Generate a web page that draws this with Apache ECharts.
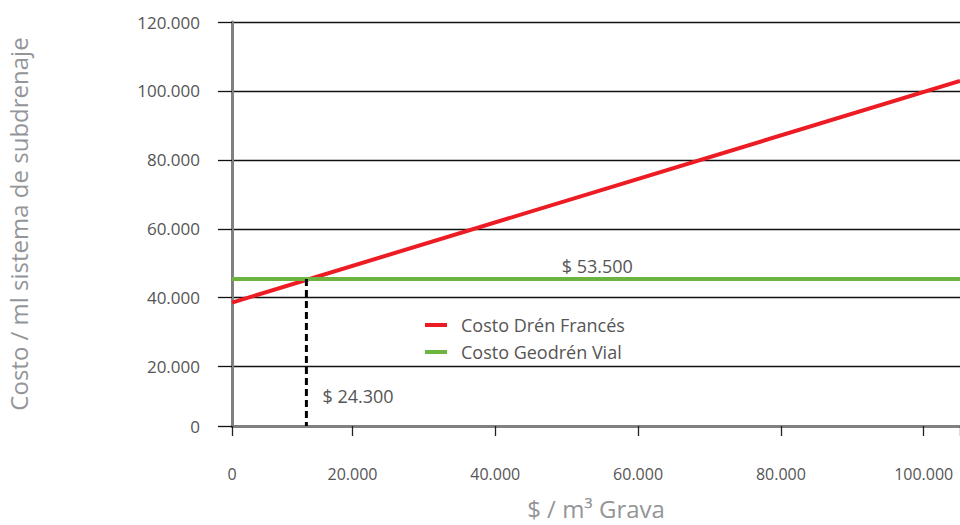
<!DOCTYPE html>
<html>
<head>
<meta charset="utf-8">
<script src="https://cdn.jsdelivr.net/npm/echarts@6/dist/echarts.min.js"></script>
<style>
html,body{margin:0;padding:0;background:#fff;}
#chart{width:960px;height:525px;}
</style>
</head>
<body>
<div id="chart"></div>
<script>
// ---- data ----
// axis ranges (origin of the drawing starts slightly above the true zero)
const xMin = 3130, xMax = 105086;
const yMin = 2780, yMax = 120000;
const xTickLabels = ['0', '20.000', '40.000', '60.000', '80.000', '100.000', ''];
const yTickLabels = ['0', '20.000', '40.000', '60.000', '80.000', '100.000', '120.000'];
const xName = '$ / m³ Grava';
const yName = 'Costo / ml sistema de subdrenaje';

const seriesNames = ['Costo Drén Francés', 'Costo Geodrén Vial'];
const drenX = [3130, 105086];
const drenY = [38600, 102900];
const geoX = [3130, 105086];
const geoY = [45400, 45400];
const crossX = [13550, 13550];
const crossY = [45400, 2780];
const annotText = ['$ 53.500', '$ 24.300'];
const annotX = [49300, 15800];
const annotY = [49070, 11390];

const FONT = 'Open Sans';
const chart = echarts.init(document.getElementById('chart'), null, {renderer: 'svg'});

const zip = (a, b) => a.map((v, i) => [v, b[i]]);

chart.setOption({
  animation: false,
  backgroundColor: '#ffffff',
  textStyle: {fontFamily: FONT},
  grid: {left: 232, right: 0, top: 22, bottom: 99, containLabel: false, outerBoundsMode: 'none'},
  legend: {
    data: seriesNames,
    orient: 'vertical',
    left: 425,
    top: 315,
    padding: 0,
    itemWidth: 22,
    itemHeight: 4,
    itemGap: 7,
    icon: 'rect',
    textStyle: {fontFamily: FONT, fontSize: 18, color: '#555555', padding: [0, 0, 0, 9], lineHeight: 20}
  },
  xAxis: {
    type: 'value',
    min: xMin, max: xMax,
    name: xName,
    nameLocation: 'middle',
    nameGap: 70,
    nameTextStyle: {fontFamily: FONT, fontSize: 24, color: '#939598'},
    axisLine: {onZero: false, lineStyle: {color: '#808080', width: 3}},
    axisTick: {show: true, length: 10, lineStyle: {color: '#222', width: 1.3}},
    axisLabel: {
      margin: 40,
      fontFamily: FONT, fontSize: 16, color: '#555555',
      formatter: (v, i) => xTickLabels[i] !== undefined ? xTickLabels[i] : ''
    },
    splitLine: {show: false}
  },
  yAxis: {
    type: 'value',
    min: yMin, max: yMax,
    name: yName,
    nameLocation: 'middle',
    nameGap: 202,
    nameRotate: 90,
    nameTextStyle: {fontFamily: FONT, fontSize: 24, color: '#939598'},
    axisLine: {show: true, onZero: false, lineStyle: {color: '#808080', width: 3}},
    axisTick: {show: true, length: 14, lineStyle: {color: '#111', width: 1.3}},
    axisLabel: {
      margin: 32,
      fontFamily: FONT, fontSize: 17, color: '#555555',
      formatter: (v, i) => yTickLabels[i] !== undefined ? yTickLabels[i] : ''
    },
    splitLine: {show: true, lineStyle: {color: '#111', width: 1.3}}
  },
  series: [
    {
      name: seriesNames[0], type: 'line', data: zip(drenX, drenY),
      symbol: 'none', color: '#ED1C24',
      lineStyle: {color: '#ED1C24', width: 4}, z: 3
    },
    {
      name: seriesNames[1], type: 'line', data: zip(geoX, geoY),
      symbol: 'none', color: '#6DB33F',
      lineStyle: {color: '#6DB33F', width: 4}, z: 4
    },
    {
      name: 'cruce', type: 'line', data: zip(crossX, crossY),
      symbol: 'none', lineStyle: {color: '#000', width: 3, type: [7, 4]}, z: 5
    },
    {
      name: 'anot', type: 'scatter',
      data: annotText.map((t, i) => ({value: [annotX[i], annotY[i]], name: t})),
      symbolSize: 0,
      itemStyle: {opacity: 1},
      label: {
        show: true, position: 'right', distance: 0, opacity: 1,
        formatter: p => p.name,
        fontFamily: FONT, fontSize: 18, color: '#555555', textBorderWidth: 0
      },
      silent: true
    }
  ]
});
</script>
</body>
</html>
